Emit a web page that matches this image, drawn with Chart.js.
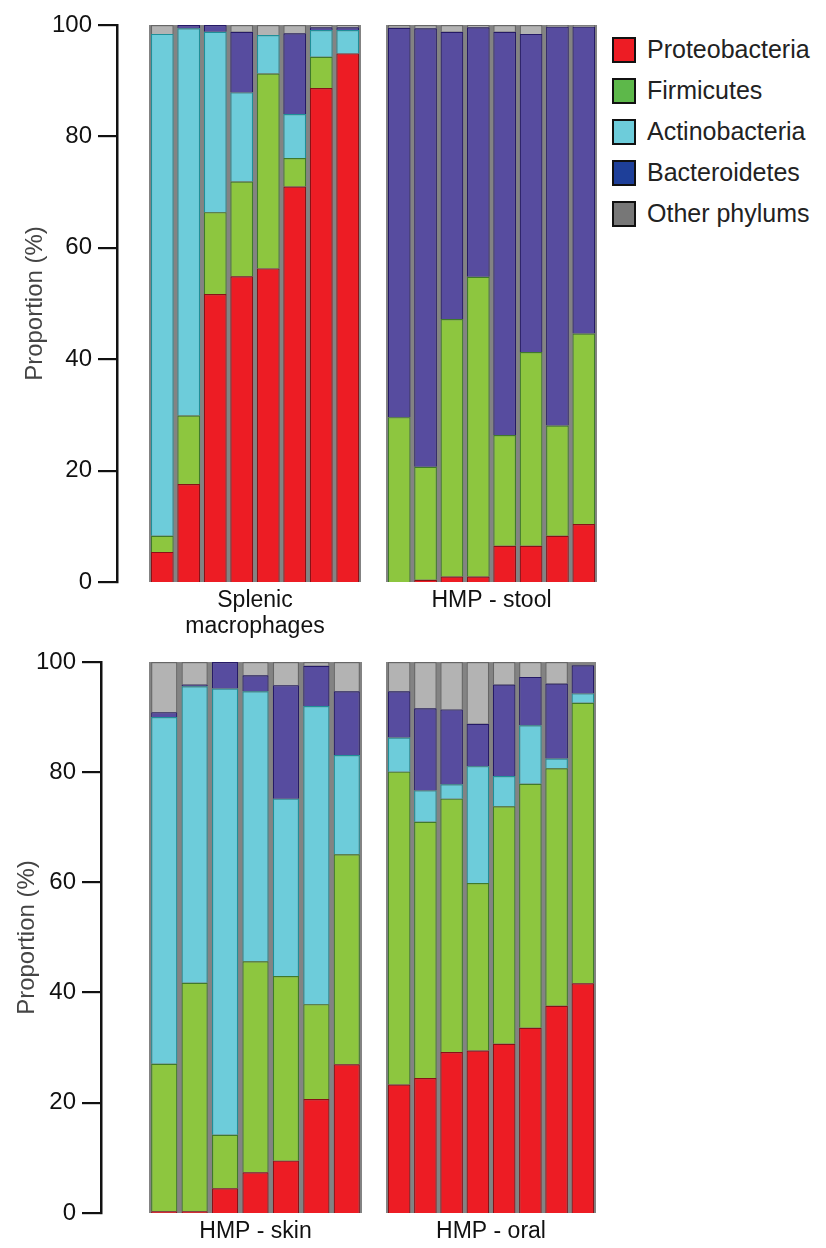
<!DOCTYPE html>
<html>
<head>
<meta charset="utf-8">
<script src="https://cdn.jsdelivr.net/npm/chart.js@4.4.1/dist/chart.umd.min.js"></script>
<style>
  html,body{margin:0;padding:0;background:#fff;}
  body{width:826px;height:1248px;position:relative;overflow:hidden;font-family:"Liberation Sans",Arial,sans-serif;}
  .box{position:absolute;}
  #legend{position:absolute;left:612px;top:29px;}
  .item{display:flex;align-items:center;height:41px;}
  .sw{box-sizing:border-box;width:24px;height:26px;border:2.5px solid #111;margin-right:11px;}
  .lab{font-size:25px;color:#222;white-space:nowrap;}
</style>
</head>
<body>
<div class="box" style="left:0;top:0;width:122px;height:640px"><canvas id="axTop"></canvas></div>
<div class="box" style="left:149px;top:0;width:212px;height:640px"><canvas id="c1"></canvas></div>
<div class="box" style="left:386px;top:0;width:211px;height:640px"><canvas id="c2"></canvas></div>
<div class="box" style="left:0;top:640px;width:106px;height:608px"><canvas id="axBot"></canvas></div>
<div class="box" style="left:149px;top:640px;width:213px;height:608px"><canvas id="c3"></canvas></div>
<div class="box" style="left:386px;top:640px;width:210px;height:608px"><canvas id="c4"></canvas></div>
<div id="legend"></div>
<script>
// ---------- series / legend ----------
const seriesNames = ['Proteobacteria','Firmicutes','Actinobacteria','Bacteroidetes','Other phylums'];
const barColors    = ['#ED1C24','#8DC63F','#6DCCDA','#574C9F','#B3B3B3'];
const edgeColors   = ['#8A1116','#3F7A2A','#1F8F99','#251A66','#666666'];
const legendColors = ['#ED1C24','#5DB84A','#6DCCDA','#1E3F99','#777777'];

// ---------- panel titles ----------
const panelTitles = [['Splenic','macrophages'],'HMP - stool','HMP - skin','HMP - oral'];
const yTicks = [0,20,40,60,80,100];
const yTitle = 'Proportion (%)';

// ---------- Splenic macrophages (8 samples) ----------
const splenicSamples = ['M1','M2','M3','M4','M5','M6','M7','M8'];
const splenicProteo  = [5.4,17.6,51.7,54.9,56.3,71.0,88.7,94.9];
const splenicFirm    = [2.9,12.3,14.7,17.0,35.0,5.1,5.6,0];
const splenicActino  = [90.1,69.5,32.4,16.0,6.9,7.9,4.8,4.2];
const splenicBact    = [0,0.6,1.2,10.9,0,14.5,0.5,0.5];
const splenicOther   = [1.6,0,0,1.2,1.8,1.5,0.4,0.4];

// ---------- HMP stool (8 samples) ----------
const stoolSamples = ['T1','T2','T3','T4','T5','T6','T7','T8'];
const stoolProteo  = [0,0.4,1.0,1.0,6.5,6.5,8.3,10.4];
const stoolFirm    = [29.6,20.3,46.2,53.8,19.9,34.8,19.8,34.2];
const stoolActino  = [0,0,0,0,0,0,0,0];
const stoolBact    = [69.9,78.7,51.6,44.8,72.4,57.1,71.6,55.1];
const stoolOther   = [0.5,0.6,1.2,0.4,1.2,1.6,0.3,0.3];

// ---------- HMP skin (7 samples) ----------
const skinSamples = ['K1','K2','K3','K4','K5','K6','K7'];
const skinProteo  = [0.3,0.3,4.5,7.4,9.5,20.7,27.0];
const skinFirm    = [26.8,41.5,9.7,38.3,33.5,17.2,38.1];
const skinActino  = [62.9,53.8,81.0,49.0,32.2,54.1,18.0];
const skinBact    = [0.9,0.3,4.8,2.9,20.6,7.3,11.6];
const skinOther   = [9.1,4.1,0,2.4,4.2,0.7,5.3];

// ---------- HMP oral (8 samples) ----------
const oralSamples = ['O1','O2','O3','O4','O5','O6','O7','O8'];
const oralProteo  = [23.3,24.5,29.2,29.5,30.7,33.6,37.6,41.7];
const oralFirm    = [56.8,46.5,46.0,30.4,43.1,44.3,43.1,50.9];
const oralActino  = [6.2,5.7,2.6,21.2,5.5,10.6,1.8,1.7];
const oralBact    = [8.4,14.9,13.6,7.7,16.6,8.8,13.6,5.1];
const oralOther   = [5.3,8.4,8.6,11.2,4.1,2.7,3.9,0];

const FONT = '"Liberation Sans", Arial, sans-serif';

const panelBg = {
  id:'panelBg',
  beforeDatasetsDraw(chart, args, opts){
    const a = chart.chartArea, ctx = chart.ctx;
    ctx.save();
    ctx.fillStyle = opts.color || '#838383';
    ctx.fillRect(a.left, a.top, a.right - a.left, a.bottom - a.top);
    ctx.restore();
  }
};

function makeDatasets(arrs){
  return arrs.map((d,i)=>({
    label: seriesNames[i],
    data: d,
    backgroundColor: barColors[i],
    borderColor: edgeColors[i],
    borderWidth: 1.2,
    borderSkipped: 'start',
    barPercentage: 0.86,
    categoryPercentage: 1.0
  }));
}

function panel(id, labels, arrs, title, padTop, xH, titlePadBottom){
  new Chart(document.getElementById(id), {
    type:'bar',
    data:{ labels: labels, datasets: makeDatasets(arrs) },
    plugins:[panelBg],
    options:{
      responsive:true, maintainAspectRatio:false, animation:false,
      layout:{ padding:{ top:padTop, bottom:0, left:0, right:0 } },
      plugins:{ legend:{display:false}, tooltip:{enabled:false}, panelBg:{color:'#838383'} },
      scales:{
        x:{ stacked:true, ticks:{display:false}, grid:{display:false}, border:{display:false},
            title:{ display:true, text:title, color:'#111', font:{family:FONT, size:23, lineHeight:1.15},
                    padding:{top:0,bottom:titlePadBottom} },
            afterFit(s){ s.height = xH; } },
        y:{ stacked:true, display:false, min:0, max:100 }
      }
    }
  });
}

function axis(id, padTop, xH, yW, titlePadTop){
  new Chart(document.getElementById(id), {
    type:'bar',
    data:{ labels:[''], datasets:[{ data:[null] }] },
    options:{
      responsive:true, maintainAspectRatio:false, animation:false,
      layout:{ padding:{ top:padTop, bottom:0, left:0, right:0 } },
      plugins:{ legend:{display:false}, tooltip:{enabled:false} },
      scales:{
        x:{ ticks:{display:false}, grid:{display:false}, border:{display:false},
            afterFit(s){ s.height = xH; } },
        y:{ min:0, max:100, position:'left',
            afterBuildTicks(s){ s.ticks = yTicks.map(v=>({value:v})); },
            ticks:{ color:'#111', font:{family:FONT, size:24}, padding:6 },
            grid:{ drawOnChartArea:false, drawTicks:true, tickLength:19, color:'#111', lineWidth:2.2 },
            border:{ display:true, color:'#111', width:2.5 },
            title:{ display:true, text:yTitle, color:'#444', font:{family:FONT, size:24}, padding:{top:titlePadTop,bottom:0} },
            afterFit(s){ s.width = yW; } }
      }
    }
  });
}

axis('axTop', 25, 58, 117, 21);
axis('axBot', 22, 35, 101, 13);

panel('c1', splenicSamples, [splenicProteo,splenicFirm,splenicActino,splenicBact,splenicOther], panelTitles[0], 25, 58, 0);
panel('c2', stoolSamples,   [stoolProteo,stoolFirm,stoolActino,stoolBact,stoolOther],           panelTitles[1], 25, 58, 26);
panel('c3', skinSamples,    [skinProteo,skinFirm,skinActino,skinBact,skinOther],                 panelTitles[2], 22, 35, 3);
panel('c4', oralSamples,    [oralProteo,oralFirm,oralActino,oralBact,oralOther],                 panelTitles[3], 22, 35, 3);

// legend built from the series arrays
const lg = document.getElementById('legend');
seriesNames.forEach((n,i)=>{
  const it = document.createElement('div'); it.className='item';
  const sw = document.createElement('div'); sw.className='sw'; sw.style.background = legendColors[i];
  const lb = document.createElement('span'); lb.className='lab'; lb.textContent = n;
  it.appendChild(sw); it.appendChild(lb); lg.appendChild(it);
});
</script>
</body>
</html>
